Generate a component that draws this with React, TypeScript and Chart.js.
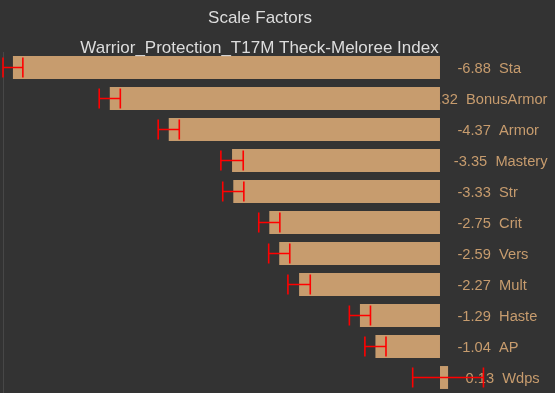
import React, { useEffect, useRef } from "react";
import { Chart, registerables } from "chart.js";

Chart.register(...registerables);

const categories = ["Sta", "BonusArmor", "Armor", "Mastery", "Str", "Crit", "Vers", "Mult", "Haste", "AP", "Wdps"];
const values = [-6.88, -5.32, -4.37, -3.35, -3.33, -2.75, -2.59, -2.27, -1.29, -1.04, 0.13];
const errors = [0.16, 0.17, 0.17, 0.18, 0.17, 0.17, 0.17, 0.18, 0.17, 0.17, 0.57];
const titleText = "Scale Factors";
const subtitleText = "Warrior_Protection_T17M Theck-Meloree Index";
const axisMin = -7.04;
const axisMax = 1.74;

const BAR_COLOR = "#C79C6E";
const BG = "#333333";

const overlayPlugin = {
  id: "overlay",
  beforeDraw(chart: any) {
    const { ctx, width, height } = chart;
    ctx.save();
    ctx.fillStyle = BG;
    ctx.fillRect(0, 0, width, height);
    ctx.restore();
  },
  beforeDatasetsDraw(chart: any) {
    const { ctx, chartArea } = chart;
    const x = chart.scales.x;
    const y = chart.scales.y;
    ctx.save();
    ctx.strokeStyle = "#474747";
    ctx.lineWidth = 1;
    ctx.beginPath();
    ctx.moveTo(Math.round(chartArea.left) + 0.5, chartArea.top);
    ctx.lineTo(Math.round(chartArea.left) + 0.5, chartArea.bottom);
    ctx.stroke();

    ctx.font = '14.67px "Liberation Sans", Arial, sans-serif';
    ctx.fillStyle = BAR_COLOR;
    ctx.textBaseline = "alphabetic";
    ctx.textAlign = "left";
    values.forEach((v, i) => {
      const text = `${v.toFixed(2)}  ${categories[i]}`;
      const w = ctx.measureText(text).width;
      let tx = x.getPixelForValue(Math.max(v, 0)) + 17.5;
      tx = Math.min(tx, chartArea.right - 0.5 - w);
      const ty = y.getPixelForValue(i) + 5.8;
      ctx.fillText(text, tx, ty);
    });
    ctx.restore();
  },
  afterDatasetsDraw(chart: any) {
    const { ctx } = chart;
    const x = chart.scales.x;
    const y = chart.scales.y;
    ctx.save();
    ctx.strokeStyle = "#ff0000";
    ctx.lineWidth = 1.6;
    values.forEach((v, i) => {
      const cy = y.getPixelForValue(i);
      const x1 = x.getPixelForValue(v - errors[i]);
      const x2 = x.getPixelForValue(v + errors[i]);
      ctx.beginPath();
      ctx.moveTo(x1, cy);
      ctx.lineTo(x2, cy);
      ctx.moveTo(x1, cy - 10);
      ctx.lineTo(x1, cy + 10);
      ctx.moveTo(x2, cy - 10);
      ctx.lineTo(x2, cy + 10);
      ctx.stroke();
    });
    ctx.restore();
  },
  afterDraw(chart: any) {
    const { ctx } = chart;
    ctx.save();
    ctx.fillStyle = "#dddddd";
    ctx.textAlign = "center";
    ctx.textBaseline = "alphabetic";
    ctx.font = '17px "Liberation Sans", Arial, sans-serif';
    ctx.fillText(titleText, 260, 23.3);
    ctx.fillText(subtitleText, 259.5, 53.3);
    ctx.restore();
  },
};

export default function App() {
  const ref = useRef<HTMLCanvasElement | null>(null);
  useEffect(() => {
    if (!ref.current) return;
    const chart = new Chart(ref.current, {
      type: "bar",
      data: {
        labels: categories,
        datasets: [
          {
            data: values,
            backgroundColor: BAR_COLOR,
            borderWidth: 0,
            barPercentage: 0.74,
            categoryPercentage: 1,
          },
        ],
      },
      options: {
        indexAxis: "y",
        responsive: false,
        animation: false,
        devicePixelRatio: 1,
        layout: { padding: { left: 3, right: 7, top: 52, bottom: 0 } },
        scales: {
          x: { display: false, min: axisMin, max: axisMax },
          y: { display: false },
        },
        plugins: {
          legend: { display: false },
          title: { display: false },
          tooltip: { enabled: false },
        },
      },
      plugins: [overlayPlugin],
    });
    return () => chart.destroy();
  }, []);
  return (
    <div style={{ position: "absolute", left: 0, top: 0, width: 555, height: 393, background: BG }}>
      <canvas ref={ref} width={555} height={393} style={{ display: "block" }} />
    </div>
  );
}
